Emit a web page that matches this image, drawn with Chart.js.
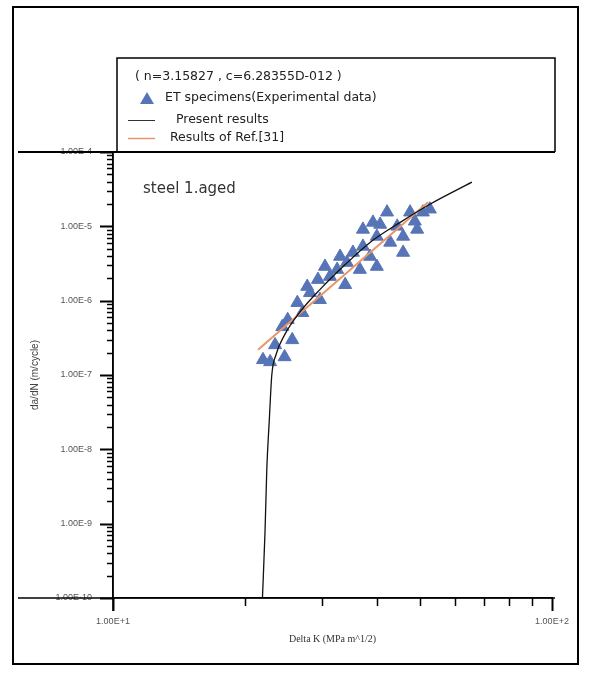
<!DOCTYPE html>
<html>
<head>
<meta charset="utf-8">
<script src="https://cdn.jsdelivr.net/npm/chart.js@4.4.1/dist/chart.umd.min.js"></script>
<style>
  html, body { margin: 0; padding: 0; background: #fff; }
  #wrap { width: 592px; height: 673px; }
</style>
</head>
<body>
<div id="wrap"><canvas id="grafico" width="592" height="673"></canvas></div>
<script>
// datos (Delta K en MPa m^1/2, da/dN en m/ciclo)
const expK = [21.96, 22.8, 24.6, 24.3, 25.0, 26.3, 27.0, 28.1, 27.7, 29.3, 30.4, 31.2, 32.4, 32.9, 34.1, 35.2, 36.5, 37.1, 38.5,
    37.1, 39.9, 39.1, 42.1, 42.8, 44.4, 45.8, 49.3, 50.8, 47.5, 52.7, 45.8, 39.9, 25.6, 23.4, 29.6, 33.8, 40.6, 48.7];
const expRate = [1.60e-7, 1.50e-7, 1.75e-7, 4.45e-7, 5.54e-7, 9.40e-7, 6.89e-7, 1.28e-6, 1.55e-6, 1.92e-6, 2.88e-6, 2.11e-6,
    2.62e-6, 3.93e-6, 3.26e-6, 4.45e-6, 2.62e-6, 5.37e-6, 3.93e-6, 9.10e-6, 7.32e-6, 1.13e-5, 1.55e-5, 6.08e-6, 1.0e-5,
    7.32e-6, 9.10e-6, 1.55e-5, 1.55e-5, 1.70e-5, 4.45e-6, 2.88e-6, 2.97e-7, 2.54e-7, 1.03e-6, 1.64e-6, 1.06e-5, 1.17e-5];

const presentK = [21.9, 22.2, 22.4, 22.7, 23.0, 23.5, 24.6, 26.7, 29.6, 33.8, 38.5, 45.1, 52.7, 65.7];
const presentRate = [1.0e-10, 8.0e-10, 5.2e-9, 2.47e-8, 1.0e-7, 1.86e-7, 3.47e-7, 7.1e-7, 1.41e-6, 3.06e-6, 6.08e-6, 1.13e-5, 1.98e-5, 3.93e-5];

const refK = [21.4, 52.2];
const refRate = [2.18e-7, 2.11e-5];

const yTickValues = [1e-10, 1e-9, 1e-8, 1e-7, 1e-6, 1e-5, 1e-4];
const yTickLabels = ['1.00E-10', '1.00E-9', '1.00E-8', '1.00E-7', '1.00E-6', '1.00E-5', '1.00E-4'];
const xTickValues = [10, 100];
const xTickLabels = ['1.00E+1', '1.00E+2'];
const minorSteps = [2, 3, 4, 5, 6, 7, 8, 9];

const legendLines = ['( n=3.15827 , c=6.28355D-012 )', 'ET specimens(Experimental data)', ' Present results', 'Results of Ref.[31]'];
const specimenText = 'steel 1.aged';

const azul = 'rgb(86,116,182)';
const naranja = 'rgb(232,150,105)';

function pares(xs, ys) {
    return xs.map((x, i) => ({ x: x, y: ys[i] }));
}

function ticksLog(decadas) {
    const lista = [];
    decadas.forEach((d, i) => {
        lista.push({ value: d, major: true });
        if (i < decadas.length - 1) {
            minorSteps.forEach(m => lista.push({ value: d * m, major: false }));
        }
    });
    return lista;
}

function etiqueta(valores, etiquetas, v) {
    for (let i = 0; i < valores.length; i++) {
        if (Math.abs(Math.log10(v) - Math.log10(valores[i])) < 1e-6) return etiquetas[i];
    }
    return '';
}

// marcas de los ejes, largas en las decadas y cortas en el resto
const marcas = {
    id: 'marcas',
    afterDraw(chart) {
        const ctx = chart.ctx;
        const xs = chart.scales.x;
        const ys = chart.scales.y;
        const area = chart.chartArea;
        ctx.save();
        ctx.strokeStyle = '#000';
        ys.ticks.forEach(t => {
            const py = Math.round(ys.getPixelForValue(t.value)) + 0.5;
            ctx.lineWidth = t.major ? 2 : 1.5;
            ctx.beginPath();
            ctx.moveTo(area.left - (t.major ? 13 : 6), py);
            ctx.lineTo(area.left, py);
            ctx.stroke();
        });
        xs.ticks.forEach(t => {
            const px = Math.round(xs.getPixelForValue(t.value)) + 0.5;
            ctx.lineWidth = t.major ? 2 : 1.5;
            ctx.beginPath();
            ctx.moveTo(px, area.bottom);
            ctx.lineTo(px, area.bottom + (t.major ? 13 : 8));
            ctx.stroke();
        });

        // lineas que cruzan todo el marco
        ctx.lineWidth = 2;
        ctx.beginPath();
        ctx.moveTo(18, area.top);
        ctx.lineTo(area.right + 3, area.top);
        ctx.stroke();
        ctx.lineWidth = 1.5;
        ctx.beginPath();
        ctx.moveTo(18, area.bottom);
        ctx.lineTo(area.right + 3, area.bottom);
        ctx.stroke();
        ctx.beginPath();
        ctx.moveTo(area.left, area.top);
        ctx.lineTo(area.left, area.bottom + 13);
        ctx.stroke();

        // marco exterior
        ctx.lineWidth = 2;
        ctx.strokeRect(13, 7, 565, 657);

        // cuadro de leyenda
        const lx = 117, ly = 58;
        ctx.lineWidth = 1.5;
        ctx.beginPath();
        ctx.moveTo(lx, area.top);
        ctx.lineTo(lx, ly);
        ctx.lineTo(area.right + 3, ly);
        ctx.lineTo(area.right + 3, area.top);
        ctx.stroke();

        ctx.fillStyle = '#222';
        ctx.font = '12.5px "DejaVu Sans", sans-serif';
        ctx.textBaseline = 'middle';
        ctx.textAlign = 'left';
        ctx.fillText(legendLines[0], 135, 77);

        ctx.fillStyle = azul;
        ctx.beginPath();
        ctx.moveTo(147, 92);
        ctx.lineTo(154, 104);
        ctx.lineTo(140, 104);
        ctx.closePath();
        ctx.fill();
        ctx.fillStyle = '#222';
        ctx.fillText(legendLines[1], 165, 98);

        ctx.strokeStyle = '#333';
        ctx.lineWidth = 1;
        ctx.beginPath();
        ctx.moveTo(128, 120.5);
        ctx.lineTo(155, 120.5);
        ctx.stroke();
        ctx.fillText(legendLines[2], 172, 120);

        ctx.strokeStyle = naranja;
        ctx.lineWidth = 1.5;
        ctx.beginPath();
        ctx.moveTo(128, 138.5);
        ctx.lineTo(155, 138.5);
        ctx.stroke();
        ctx.fillText(legendLines[3], 170, 138);

        ctx.font = '15px "DejaVu Sans", sans-serif';
        ctx.fillStyle = '#333';
        ctx.fillText(specimenText, 143, 189);
        ctx.restore();
    }
};

new Chart(document.getElementById('grafico'), {
    type: 'scatter',
    data: {
        datasets: [
            {
                label: 'Present results',
                data: pares(presentK, presentRate),
                showLine: true,
                borderColor: '#111',
                borderWidth: 1.3,
                pointRadius: 0,
                cubicInterpolationMode: 'monotone',
                order: 0
            },
            {
                label: 'Results of Ref.[31]',
                data: pares(refK, refRate),
                showLine: true,
                borderColor: naranja,
                borderWidth: 2,
                pointRadius: 0,
                order: 1
            },
            {
                label: 'ET specimens(Experimental data)',
                data: pares(expK, expRate),
                pointStyle: 'triangle',
                pointRadius: 7.5,
                backgroundColor: azul,
                borderColor: azul,
                borderWidth: 1,
                order: 2
            }
        ]
    },
    options: {
        responsive: false,
        animation: false,
        layout: { padding: { top: 152, right: 40, left: 0, bottom: 0 } },
        plugins: {
            legend: { display: false },
            tooltip: { enabled: false }
        },
        scales: {
            x: {
                type: 'logarithmic',
                min: 10,
                max: 100,
                afterFit: s => { s.height = 75; },
                afterBuildTicks: s => { s.ticks = ticksLog(xTickValues); },
                grid: { display: false },
                border: { display: true, color: '#000', width: 1.5 },
                ticks: {
                    autoSkip: false,
                    maxRotation: 0,
                    padding: 10,
                    color: '#555',
                    font: { size: 9, family: '"Liberation Sans", Arial, sans-serif' },
                    callback: v => etiqueta(xTickValues, xTickLabels, v)
                },
                title: {
                    display: true,
                    text: 'Delta K (MPa m^1/2)',
                    color: '#333',
                    font: { size: 10, family: '"Liberation Serif", "Times New Roman", serif' },
                    padding: { top: 0, bottom: 28 }
                }
            },
            y: {
                type: 'logarithmic',
                min: 1e-10,
                max: 1e-4,
                afterFit: s => { s.width = 113; },
                afterBuildTicks: s => { s.ticks = ticksLog(yTickValues); },
                grid: { display: false },
                border: { display: true, color: '#000', width: 1.5 },
                ticks: {
                    autoSkip: false,
                    padding: 13,
                    color: '#555',
                    font: { size: 9, family: '"Liberation Sans", Arial, sans-serif' },
                    callback: v => etiqueta(yTickValues, yTickLabels, v)
                },
                title: {
                    display: true,
                    text: 'da/dN (m/cycle)',
                    color: '#444',
                    font: { size: 10, family: '"Liberation Sans", Arial, sans-serif' },
                    padding: { top: 29, bottom: 0 }
                }
            }
        }
    },
    plugins: [marcas]
});
</script>
</body>
</html>
